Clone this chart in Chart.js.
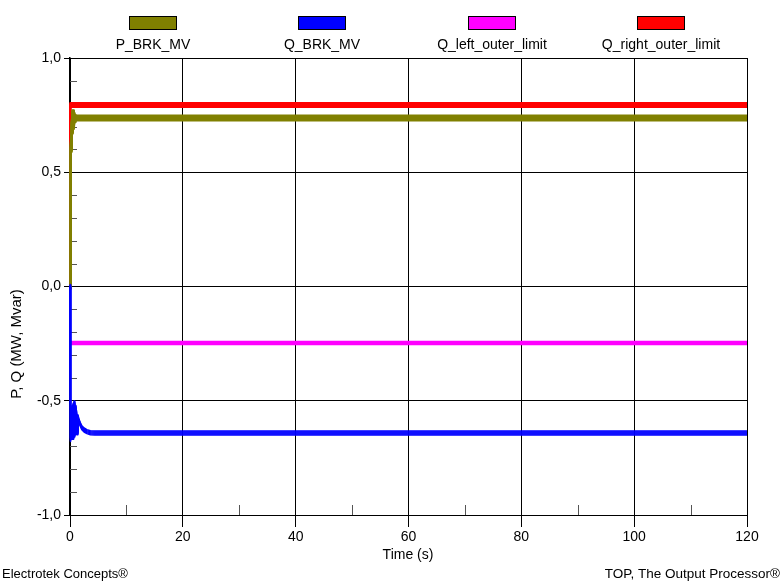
<!DOCTYPE html>
<html>
<head>
<meta charset="utf-8">
<script src="https://cdn.jsdelivr.net/npm/chart.js@4/dist/chart.umd.min.js"></script>
<style>
  html, body { margin: 0; padding: 0; background: #fff; }
  #wrap { width: 783px; height: 583px; }
</style>
</head>
<body>
<div id="wrap"><canvas id="c" width="783" height="583"></canvas></div>
<script>
// Series names and colours
const seriesNames = ['P_BRK_MV', 'Q_BRK_MV', 'Q_left_outer_limit', 'Q_right_outer_limit'];
const seriesColors = ['#808000', '#0000ff', '#ff00ff', '#ff0000'];

// Active power through the MV breaker (MW)
const pTime = [0, 0.1, 0.15, 0.2, 0.25, 0.3, 0.35, 0.4, 0.5, 0.6, 0.7, 0.8, 0.9, 1.0, 1.2, 120];
const pValue = [0, 0.45, 0.6, 0.66, 0.6, 0.72, 0.64, 0.76, 0.68, 0.76, 0.7, 0.75, 0.73, 0.74, 0.737, 0.737];

// Reactive power through the MV breaker (Mvar)
const qTime = [0, 0.04, 0.1, 0.16, 0.24, 0.32, 0.4, 0.48, 0.56, 0.64, 0.72, 0.8, 0.88, 0.96, 1.05, 1.15, 1.25, 1.4, 1.6, 1.85, 2.1, 2.5, 3.0, 3.6, 4.4, 120];
const qValue = [0, -0.67, -0.57, -0.66, -0.55, -0.66, -0.53, -0.66, -0.52, -0.66, -0.51, -0.51, -0.65, -0.53, -0.64, -0.55, -0.64, -0.57, -0.59, -0.605, -0.618, -0.628, -0.635, -0.64, -0.641, -0.641];

// Reactive power limits (Mvar)
const leftTime = [0, 120];
const leftValue = [-0.247, -0.247];
const rightTime = [0, 0.05, 120];
const rightValue = [0, 0.794, 0.794];

// Axis ticks
const xTicks = [0, 20, 40, 60, 80, 100, 120];
const xMinorTicks = [10, 30, 50, 70, 90, 110];
const yTicks = [-1.0, -0.5, 0.0, 0.5, 1.0];
const yMinorTicks = [-0.9, -0.8, -0.7, -0.6, -0.4, -0.3, -0.2, -0.1, 0.1, 0.2, 0.3, 0.4, 0.6, 0.7, 0.8, 0.9];

const FONT = '"Liberation Sans", Arial, sans-serif';

function pts(t, v) { return t.map((x, i) => ({ x: x, y: v[i] })); }
function fmt(v) { return v.toFixed(1).replace('.', ','); }

// Traces use a flat pen: each line is stroked again at a few vertical offsets,
// so horizontal runs are thick while steep runs stay narrow.
const flatPen = {
  id: 'flatPen',
  afterDatasetDraw(chart, args) {
    const meta = args.meta;
    const ds = chart.data.datasets[args.index];
    const h = ds.penHeight || 0;
    const ctx = chart.ctx;
    for (let dy = -h; dy <= h; dy += 1) {
      if (dy === 0) continue;
      ctx.save();
      ctx.translate(0, dy);
      meta.dataset.draw(ctx, chart.chartArea);
      ctx.restore();
    }
  }
};

// Minor ticks, legend, axis titles and footer text
const decorations = {
  id: 'decorations',
  beforeDatasetsDraw(chart) {
    const ctx = chart.ctx;
    const xs = chart.scales.x, ys = chart.scales.y;
    const area = chart.chartArea;
    ctx.save();
    ctx.strokeStyle = '#555';
    ctx.lineWidth = 1;
    ctx.beginPath();
    yMinorTicks.forEach(v => {
      const y = Math.round(ys.getPixelForValue(v)) + 0.5;
      ctx.moveTo(area.left, y);
      ctx.lineTo(area.left + 7, y);
    });
    xMinorTicks.forEach(v => {
      const x = Math.round(xs.getPixelForValue(v)) + 0.5;
      ctx.moveTo(x, area.bottom);
      ctx.lineTo(x, area.bottom - 10);
    });
    ctx.stroke();
    ctx.restore();
  },
  afterDraw(chart) {
    const ctx = chart.ctx;
    ctx.save();
    // legend
    const centers = [153, 322, 492, 661];
    ctx.font = '14px ' + FONT;
    ctx.textAlign = 'center';
    ctx.textBaseline = 'middle';
    seriesNames.forEach((name, i) => {
      const cx = centers[i];
      ctx.fillStyle = seriesColors[i];
      ctx.fillRect(cx - 24, 16, 48, 14);
      ctx.strokeStyle = '#000';
      ctx.lineWidth = 1;
      ctx.strokeRect(cx - 23.5, 16.5, 47, 13);
      ctx.fillStyle = '#000';
      ctx.fillText(name, cx, 45);
    });
    // axis titles
    ctx.fillText('Time (s)', 408, 555);
    ctx.save();
    ctx.translate(17, 344);
    ctx.rotate(-Math.PI / 2);
    ctx.font = '15px ' + FONT;
    ctx.fillText('P, Q (MW, Mvar)', 0, 0);
    ctx.restore();
    // footer
    ctx.font = '13px ' + FONT;
    ctx.textAlign = 'left';
    ctx.fillText('Electrotek Concepts\u00ae', 2, 574);
    ctx.font = '13.5px ' + FONT;
    ctx.textAlign = 'right';
    ctx.fillText('TOP, The Output Processor\u00ae', 780, 574);
    ctx.restore();
  }
};

new Chart(document.getElementById('c'), {
  type: 'line',
  data: {
    datasets: [
      { label: seriesNames[0], data: pts(pTime, pValue), borderColor: seriesColors[0], borderWidth: 2, penHeight: 2.5, order: 2 },
      { label: seriesNames[1], data: pts(qTime, qValue), borderColor: seriesColors[1], borderWidth: 1.5, penHeight: 2, order: 1 },
      { label: seriesNames[2], data: pts(leftTime, leftValue), borderColor: seriesColors[2], borderWidth: 1.5, penHeight: 1.5, order: 3 },
      { label: seriesNames[3], data: pts(rightTime, rightValue), borderColor: seriesColors[3], borderWidth: 2, penHeight: 2, order: 4 }
    ]
  },
  options: {
    responsive: false,
    animation: false,
    devicePixelRatio: 1,
    layout: { padding: { top: 58, right: 36, left: 0, bottom: 0 } },
    elements: {
      point: { radius: 0, hoverRadius: 0 },
      line: { tension: 0, borderJoinStyle: 'round', fill: false }
    },
    clip: false,
    plugins: { legend: { display: false }, tooltip: { enabled: false } },
    scales: {
      x: {
        type: 'linear',
        min: 0, max: 120,
        afterFit(s) { s.height = 68; },
        afterBuildTicks(s) { s.ticks = xTicks.map(v => ({ value: v })); },
        ticks: { autoSkip: false, maxRotation: 0, color: '#000', padding: 2, font: { family: FONT, size: 14 } },
        grid: { color: '#000', lineWidth: 1, tickLength: 12, drawTicks: true },
        border: { color: '#000', width: 1 }
      },
      y: {
        min: -1, max: 1,
        afterFit(s) { s.width = 70; },
        afterBuildTicks(s) { s.ticks = yTicks.map(v => ({ value: v })); },
        ticks: { color: '#000', padding: 3, callback: v => fmt(v), font: { family: FONT, size: 14 } },
        grid: { color: '#000', lineWidth: 1, tickLength: 6, drawTicks: true },
        border: { color: '#000', width: 1.5 }
      }
    }
  },
  plugins: [flatPen, decorations]
});
</script>
</body>
</html>
